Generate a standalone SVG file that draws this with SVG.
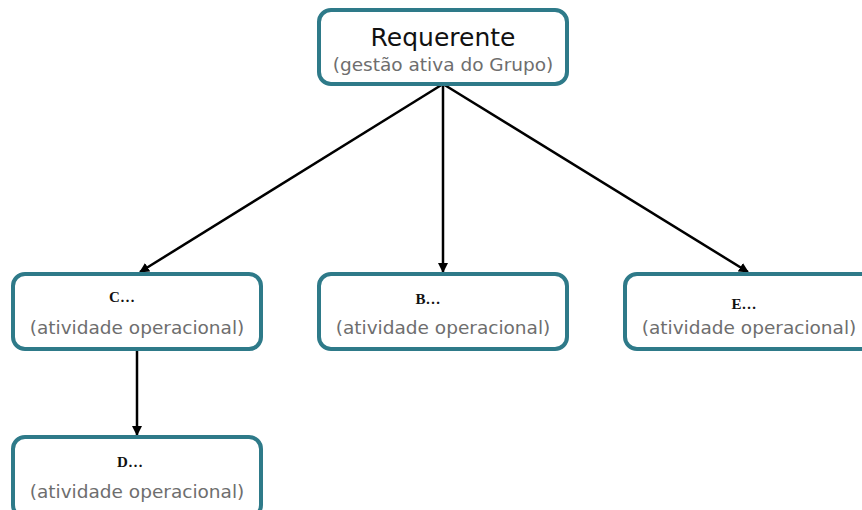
<svg xmlns="http://www.w3.org/2000/svg" width="862" height="510" viewBox="0 0 862 510">
<defs>
<marker id="ah" viewBox="0 0 10 10" refX="9" refY="5" markerWidth="10" markerHeight="10" markerUnits="userSpaceOnUse" orient="auto">
<path d="M0,0 L10,5 L0,10 z" fill="#000"/>
</marker>
<style>
.box{fill:#fff;stroke:#2e7a89;stroke-width:4}
.t1{font-family:"DejaVu Sans",Verdana,sans-serif;font-size:25px;fill:#111;text-anchor:middle}
.sub{font-family:"DejaVu Sans",Verdana,sans-serif;font-size:18.5px;fill:#6e6e6e;text-anchor:middle}
.lbl{font-family:"Liberation Serif","Times New Roman",serif;font-size:15px;font-weight:bold;fill:#111;text-anchor:middle}
.conn{stroke:#000;stroke-width:2.5;fill:none;marker-end:url(#ah)}
</style>
</defs>
<rect width="862" height="510" fill="#fff"/>
<g id="connectors">
<line class="conn" x1="443" y1="84" x2="140" y2="272"/>
<line class="conn" x1="443" y1="84" x2="443" y2="272"/>
<line class="conn" x1="443" y1="84" x2="748" y2="272"/>
<line class="conn" x1="137" y1="350" x2="137" y2="435"/>
</g>
<g id="requerente">
<rect class="box" x="319" y="10" width="248" height="74" rx="12"/>
<text class="t1" x="443" y="46">Requerente</text>
<text class="sub" x="443" y="71">(gestão ativa do Grupo)</text>
</g>
<g id="nodeC">
<rect class="box" x="13" y="274" width="248" height="75" rx="12"/>
<text class="lbl" x="122" y="302">C…</text>
<text class="sub" x="137" y="334">(atividade operacional)</text>
</g>
<g id="nodeB">
<rect class="box" x="319" y="274" width="248" height="75" rx="12"/>
<text class="lbl" x="428" y="304">B…</text>
<text class="sub" x="443" y="334">(atividade operacional)</text>
</g>
<g id="nodeE">
<rect class="box" x="625" y="274" width="248" height="75" rx="12"/>
<text class="lbl" x="744" y="309">E…</text>
<text class="sub" x="749" y="334">(atividade operacional)</text>
</g>
<g id="nodeD">
<rect class="box" x="13" y="437" width="248" height="80" rx="12"/>
<text class="lbl" x="130" y="467">D…</text>
<text class="sub" x="137" y="498">(atividade operacional)</text>
</g>
</svg>
